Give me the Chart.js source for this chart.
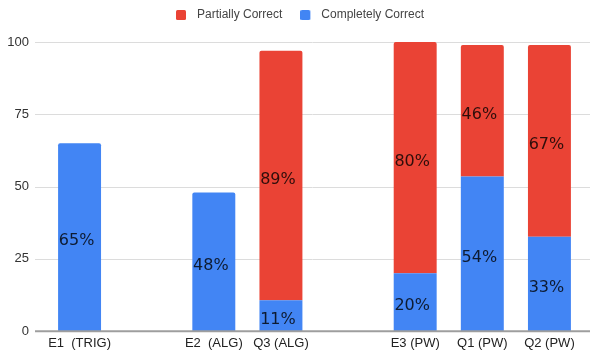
<!DOCTYPE html>
<html>
<head>
<meta charset="utf-8">
<script src="https://cdn.jsdelivr.net/npm/chart.js@4/dist/chart.umd.min.js"></script>
<style>
  html, body { margin: 0; padding: 0; background: #fff; }
  #wrap { width: 592px; height: 356px; }
</style>
</head>
<body>
<div id="wrap"><canvas id="c"></canvas></div>
<script>
// Question categories (empty entries are spacers between exam groups)
const categories = ['E1  (TRIG)', '', 'E2  (ALG)', 'Q3 (ALG)', '', 'E3 (PW)', 'Q1 (PW)', 'Q2 (PW)'];
// Share of the class that attempted each question (full bar height)
const attempted = [100, null, 100, 97, null, 100, 99, 99];
// Breakdown of those attempts, in percent
const completelyPct = [65, null, 48, 11, null, 20, 54, 33];
const partiallyPct = [null, null, null, 89, null, 80, 46, 67];
const yTicks = [0, 25, 50, 75, 100];

const RED = '#ea4335';
const BLUE = '#4285f4';
const SANS = '"Liberation Sans", Arial, sans-serif';

function segment(pcts) {
  return pcts.map((p, i) => (p == null || attempted[i] == null) ? null : p * attempted[i] / 100);
}
const completelyValues = segment(completelyPct);
const partiallyValues = segment(partiallyPct);

// Legend swatch: a small square with some empty space after it
function legendSwatch(color) {
  const c = document.createElement('canvas');
  c.width = 15; c.height = 10;
  const g = c.getContext('2d');
  g.fillStyle = color;
  g.beginPath();
  if (g.roundRect) g.roundRect(0, 0, 10, 10, 1.5); else g.rect(0, 0, 10, 10);
  g.fill();
  return c;
}

// Extra room between the legend and the plot, and a small nudge to the right
const legendSpacing = {
  id: 'legendSpacing',
  beforeInit(chart) {
    const fit = chart.legend.fit;
    chart.legend.fit = function () {
      fit.call(this);
      this.height += 11;
    };
  },
  afterLayout(chart) {
    chart.legend.left += 5;
    chart.legend.right += 5;
  }
};

// Grid lines run a little past the plot area on both sides
const extendedGrid = {
  id: 'extendedGrid',
  beforeDatasetsDraw(chart) {
    const { ctx, scales: { y } } = chart;
    const left = chart.chartArea.left - 11, right = chart.width - 2;
    ctx.save();
    ctx.strokeStyle = '#dcdcdc';
    ctx.lineWidth = 1;
    yTicks.forEach(v => {
      if (v === 0) return;
      const py = Math.round(y.getPixelForValue(v)) + 0.5;
      ctx.beginPath(); ctx.moveTo(left, py); ctx.lineTo(right, py); ctx.stroke();
    });
    ctx.restore();
  },
  afterDatasetsDraw(chart) {
    const { ctx, scales: { y } } = chart;
    const left = chart.chartArea.left - 11, right = chart.width - 2;
    const py = y.getPixelForValue(0);
    ctx.save();
    ctx.strokeStyle = '#9e9e9e';
    ctx.lineWidth = 2;
    ctx.beginPath(); ctx.moveTo(left, py); ctx.lineTo(right, py); ctx.stroke();
    ctx.restore();
  }
};

// Percentage text inside each bar segment
const segmentLabels = {
  id: 'segmentLabels',
  afterDatasetsDraw(chart) {
    const { ctx } = chart;
    const pctSets = [completelyPct, partiallyPct];
    ctx.save();
    ctx.font = '16px "DejaVu Sans"';
    ctx.fillStyle = 'rgba(0,0,0,0.8)';
    ctx.textAlign = 'center';
    ctx.textBaseline = 'middle';
    chart.data.datasets.forEach((ds, di) => {
      const meta = chart.getDatasetMeta(di);
      meta.data.forEach((bar, i) => {
        const p = pctSets[di][i];
        if (p == null || ds.data[i] == null) return;
        const mid = (bar.y + bar.base) / 2;
        ctx.fillText(p + '%', bar.x - 3, mid + 4);
      });
    });
    ctx.restore();
  }
};

function topRadius(ctx) {
  const i = ctx.dataIndex;
  const isTop = ctx.datasetIndex === 1 || partiallyValues[i] == null;
  return isTop ? { topLeft: 2, topRight: 2, bottomLeft: 0, bottomRight: 0 } : 0;
}

new Chart(document.getElementById('c'), {
  type: 'bar',
  data: {
    labels: categories,
    datasets: [
      { label: 'Completely Correct', data: completelyValues, backgroundColor: BLUE, pointStyle: legendSwatch(BLUE), borderRadius: topRadius, borderSkipped: false },
      { label: 'Partially Correct', data: partiallyValues, backgroundColor: RED, pointStyle: legendSwatch(RED), borderRadius: topRadius, borderSkipped: false }
    ]
  },
  options: {
    responsive: true,
    maintainAspectRatio: false,
    animation: false,
    categoryPercentage: 0.8,
    barPercentage: 0.8,
    layout: { padding: { left: 7, right: 9, top: -9, bottom: 3 } },
    plugins: {
      tooltip: { enabled: false },
      legend: {
        position: 'top',
        reverse: true,
        labels: {
          usePointStyle: true,
          pointStyleWidth: 15,
          boxWidth: 10,
          boxHeight: 10,
          padding: 18,
          color: '#444',
          font: { family: SANS, size: 12 }
        }
      }
    },
    scales: {
      x: {
        stacked: true,
        grid: { display: false, drawTicks: false },
        border: { display: false },
        afterFit(scale) { scale.height = 19; },
        ticks: {
          color: '#222',
          padding: 4,
          maxRotation: 0,
          autoSkip: false,
          font: { family: SANS, size: 13 }
        }
      },
      y: {
        stacked: true,
        min: 0,
        max: 100,
        afterBuildTicks(scale) { scale.ticks = yTicks.map(v => ({ value: v })); },
        afterFit(scale) { scale.width = 39; },
        grid: { display: false, drawTicks: false },
        border: { display: false },
        ticks: {
          color: '#333',
          padding: 17,
          font: { family: SANS, size: 13 }
        }
      }
    }
  },
  plugins: [legendSpacing, extendedGrid, segmentLabels]
});
</script>
</body>
</html>
